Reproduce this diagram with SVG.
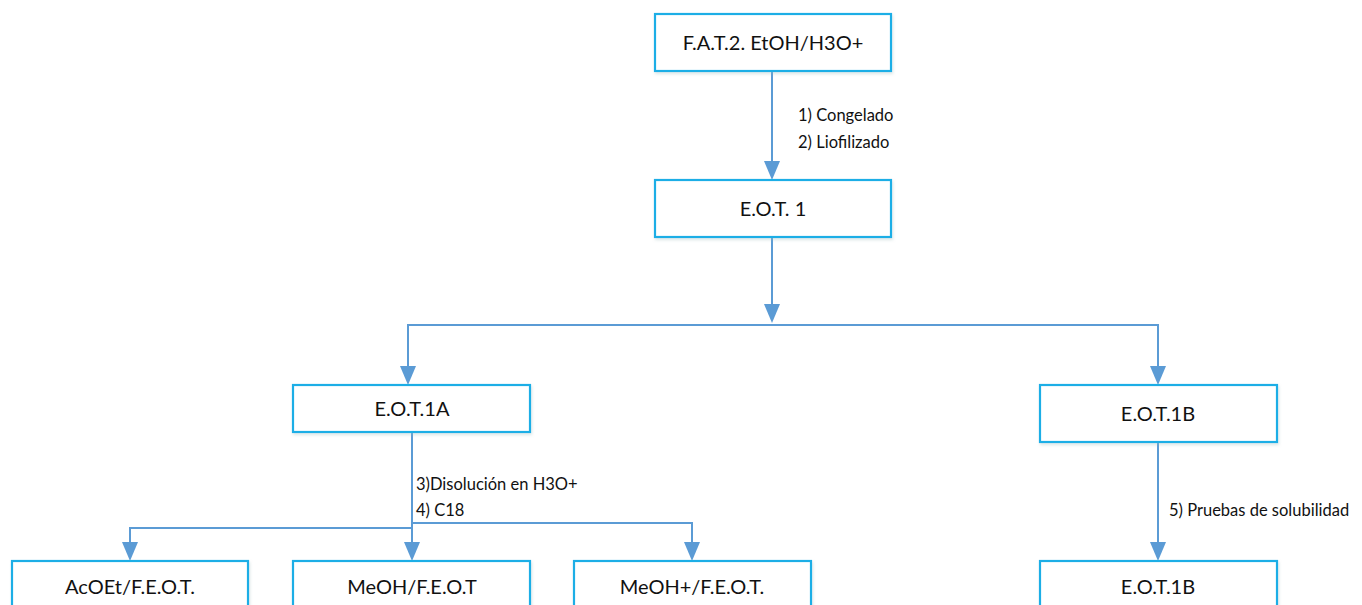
<svg xmlns="http://www.w3.org/2000/svg" width="1362" height="605" viewBox="0 0 1362 605">
  <defs>
    <filter id="shadow" x="-5%" y="-10%" width="110%" height="130%">
      <feDropShadow dx="1" dy="2" stdDeviation="1.5" flood-color="#9bb" flood-opacity="0.35"/>
    </filter>
  </defs>
  <style>
    .box { fill: #ffffff; stroke: #1AAEE6; stroke-width: 2.2; filter: url(#shadow); }
    .btxt { font-family: Lato, "Open Sans", sans-serif; font-size: 20px; fill: #111; text-anchor: middle; }
    .lbl { font-family: Lato, "Open Sans", sans-serif; font-size: 16.5px; fill: #111; }
    .wire { fill: none; stroke: #5B9BD5; stroke-width: 2; }
    .tip { fill: #5B9BD5; }
  </style>
  <rect width="1362" height="605" fill="#ffffff"/>

  <g id="connectors">
    <!-- F.A.T.2 -> E.O.T.1 -->
    <line class="wire" x1="772" y1="71" x2="772" y2="165"/>
    <path class="tip" d="M764,161 L780,161 L772,180 Z"/>
    <!-- E.O.T.1 -> split -->
    <line class="wire" x1="772" y1="237" x2="772" y2="310"/>
    <path class="tip" d="M764,304 L780,304 L772,323 Z"/>
    <polyline class="wire" points="408,370 408,325 1158,325 1158,370"/>
    <path class="tip" d="M400,366 L416,366 L408,385 Z"/>
    <path class="tip" d="M1150,366 L1166,366 L1158,385 Z"/>
    <!-- E.O.T.1A -> three fractions -->
    <line class="wire" x1="412" y1="432" x2="412" y2="546"/>
    <path class="tip" d="M404,542 L420,542 L412,561 Z"/>
    <polyline class="wire" points="412,523 692,523 692,546"/>
    <path class="tip" d="M684,542 L700,542 L692,561 Z"/>
    <polyline class="wire" points="412,528 130,528 130,546"/>
    <path class="tip" d="M122,542 L138,542 L130,561 Z"/>
    <!-- E.O.T.1B -> E.O.T.1B -->
    <line class="wire" x1="1158" y1="442" x2="1158" y2="546"/>
    <path class="tip" d="M1150,542 L1166,542 L1158,561 Z"/>
  </g>

  <g id="labels">
    <text class="lbl" x="798" y="121">1) Congelado</text>
    <text class="lbl" x="798" y="148">2) Liofilizado</text>
    <text class="lbl" x="416" y="490">3)Disolución en H3O+</text>
    <text class="lbl" x="416" y="516">4) C18</text>
    <text class="lbl" x="1169" y="516">5) Pruebas de solubilidad</text>
  </g>

  <g id="node-fat2">
    <rect class="box" x="655" y="14" width="236" height="57"/>
    <text class="btxt" x="773" y="50">F.A.T.2. EtOH/H3O+</text>
  </g>
  <g id="node-eot1">
    <rect class="box" x="655" y="180" width="236" height="57"/>
    <text class="btxt" x="773" y="216">E.O.T. 1</text>
  </g>
  <g id="node-eot1a">
    <rect class="box" x="293" y="385" width="237" height="47"/>
    <text class="btxt" x="412" y="416">E.O.T.1A</text>
  </g>
  <g id="node-eot1b">
    <rect class="box" x="1040" y="385" width="237" height="57"/>
    <text class="btxt" x="1158" y="421">E.O.T.1B</text>
  </g>
  <g id="node-acoet">
    <rect class="box" x="12" y="561" width="236" height="60"/>
    <text class="btxt" x="130" y="594">AcOEt/F.E.O.T.</text>
  </g>
  <g id="node-meoh">
    <rect class="box" x="293" y="561" width="237" height="60"/>
    <text class="btxt" x="412" y="594">MeOH/F.E.O.T</text>
  </g>
  <g id="node-meohplus">
    <rect class="box" x="574" y="561" width="237" height="60"/>
    <text class="btxt" x="692" y="594">MeOH+/F.E.O.T.</text>
  </g>
  <g id="node-eot1b-final">
    <rect class="box" x="1040" y="561" width="237" height="60"/>
    <text class="btxt" x="1158" y="594">E.O.T.1B</text>
  </g>
</svg>
